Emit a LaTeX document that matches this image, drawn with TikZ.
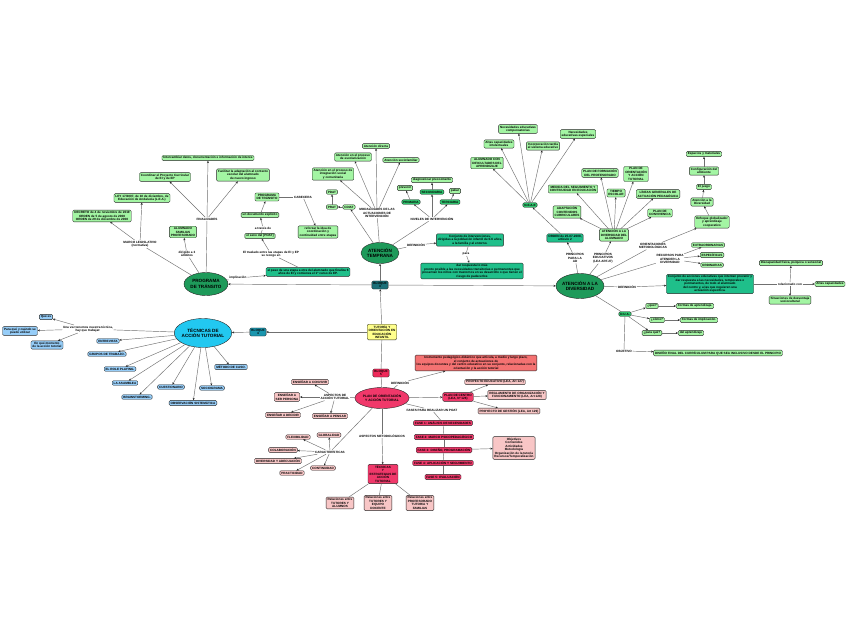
\documentclass[tikz,border=0pt]{standalone}
\usepackage{fontspec}
\setmainfont{Liberation Sans}
\usetikzlibrary{shapes.geometric,arrows.meta}
\definecolor{lgreen}{HTML}{A3F5A3}
\definecolor{mgreen}{HTML}{2FC46E}
\definecolor{tealg}{HTML}{1FBF8A}
\definecolor{dgreen}{HTML}{1E9A5A}
\definecolor{dteal}{HTML}{1B6F78}
\definecolor{bteal}{HTML}{1A96AE}
\definecolor{cyanE}{HTML}{22C8F0}
\definecolor{lblue}{HTML}{96CDF8}
\definecolor{yel}{HTML}{FFFF8C}
\definecolor{redA}{HTML}{EE2A5A}
\definecolor{redB}{HTML}{F0386A}
\definecolor{salmon}{HTML}{F47272}
\definecolor{lpink}{HTML}{F8C6C6}
\definecolor{lineg}{HTML}{707070}
\tikzset{
  txt/.style={font=\fontsize{3.1}{3.5}\selectfont\bfseries, align=center},
  bx/.style={txt, draw=black!85, line width=0.35pt, rounded corners=1.2pt, inner xsep=1.5pt, inner ysep=1.2pt},
  gb/.style={bx, fill=lgreen},
  mg/.style={bx, fill=mgreen},
  tg/.style={bx, fill=tealg},
  bb/.style={bx, fill=lblue},
  pk/.style={bx, fill=lpink},
  rd/.style={bx, fill=redB},
  lb/.style={txt, fill=white, inner sep=0.6pt},
  el/.style={ellipse, draw=black!85, line width=0.4pt, font=\fontsize{4.6}{5.2}\selectfont\bfseries, align=center, inner sep=0pt},
  cn/.style={draw=lineg, line width=0.45pt},
  ar/.style={cn, -{Stealth[length=2.3pt,width=2pt,color=black!85]}},
}
\begin{document}
\begin{tikzpicture}[x=1pt,y=-1pt]
\useasboundingbox (0,0) rectangle (848,638);
\fill[white] (0,0) rectangle (848,638);

% ---------- central ----------
\node[bx, fill=dteal, minimum width=16] (b3) at (380,285) {BLOQUE\\3};
\node[bx, fill=yel] (tut) at (382,332) {TUTORÍA Y\\ORIENTACIÓN EN\\EDUCACIÓN\\INFANTIL};
\node[bx, fill=bteal] (b4) at (258,332) {BLOQUE\\4};
\node[bx, fill=redA] (b5) at (381,373) {BLOQUE\\5};

\node[el, fill=dgreen, minimum width=44, minimum height=23] (prog) at (206,284) {PROGRAMA\\DE TRÁNSITO};
\node[el, fill=dgreen, minimum width=38, minimum height=21] (at) at (380,253) {ATENCIÓN\\TEMPRANA};
\node[el, fill=dgreen, minimum width=48, minimum height=25, inner sep=-2.5pt, font=\fontsize{4.6}{5.4}\selectfont\bfseries] (aad) at (580,286) {ATENCIÓN A LA\\DIVERSIDAD};
\node[el, fill=cyanE, minimum width=52, minimum height=29, inner sep=-1pt] (tec) at (203,333) {TÉCNICAS DE\\ACCIÓN TUTORIAL};
\node[el, fill=redB, minimum width=52, minimum height=21, font=\fontsize{3.3}{3.8}\selectfont\bfseries] (poat) at (382,398) {PLAN DE ORIENTACIÓN\\Y ACCIÓN TUTORIAL};

\draw[ar] (b3) -- (prog);
\draw[ar] (b3) -- (aad);
\draw[ar] (b3) -- (at);
\draw[ar] (tut) -- (b3);
\draw[ar] (tut) -- (b4);
\draw[ar] (b4) -- (tec);
\draw[cn] (tut) -- (b5);
\draw[cn] (b5) -- (poat);

% ---------- programa de transito ----------
\node[lb] (fin) at (207,219) {FINALIDADES};
\node[gb] (p1) at (208,158) {Intercambiar datos, documentación e información de interés};
\node[gb] (p2) at (165,177) {Coordinar el Proyecto Curricular\\de EI y de EP};
\node[gb] (p3) at (243,175) {Facilitar la adaptación al contexto\\escolar del alumnado\\de nuevo ingreso};
\node[lb] (marco) at (140,244) {MARCO LEGISLATIVO\\(normativa)};
\node[gb] (ley) at (142,198) {LEY 17/2007, de 10 de diciembre, de\\Educación de Andalucía (L.E.A.)};
\node[gb] (dec) at (102,216) {DECRETO de 4 de noviembre de 2019\\ORDEN de 5 de agosto de 2008\\ORDEN de 29 de diciembre de 2008};
\node[gb] (alum) at (183,232) {ALUMNADO\\FAMILIAS\\PROFESORADO};
\node[lb] (dir) at (187,254) {dirigido a 3\\ámbitos};
\node[gb] (ptbox) at (267,197) {PROGRAMA\\DE TRÁNSITO};
\node[gb] (doc) at (260,215) {un documento explícito};
\node[lb] (atr) at (263,228) {a través de};
\node[gb] (seno) at (260,236) {el seno del [POAT]};
\node[lb] (tras) at (271,254) {El traslado entre las etapas de EI y EP\\se recoge en};
\node[tg] (paso) at (308,272) {el paso de una etapa a otra del alumnado que finaliza 6\\años de EI y comienza el 1º curso de EP.};
\node[lb] (impl) at (238,278) {implicación};
\node[lb] (cab) at (303,197) {CABECERA};
\node[gb] (refl) at (318,232) {reforzar la idea de\\coordinación y\\continuidad entre etapas};

\draw[cn] (prog) -- (fin);
\draw[ar] (fin) -- (p1);
\draw[ar] (fin) -- (p2);
\draw[ar] (fin) -- (p3);
\draw[cn] (prog) -- (marco);
\draw[ar] (marco) -- (ley);
\draw[ar] (marco) -- (dec);
\draw[cn] (prog) -- (dir);
\draw[ar] (dir) -- (alum);
\draw[cn] (prog) -- (impl);
\draw[ar] (impl) -- (paso);
\draw[cn] (paso) -- (tras);
\draw[ar] (tras) -- (seno);
\draw[cn] (seno) -- (atr);
\draw[ar] (atr) -- (doc);
\draw[ar] (doc) -- (ptbox);
\draw[cn] (ptbox) -- (cab);
\draw[ar] (cab) -- (refl);

% ---------- atencion temprana ----------
\node[lb] (mod) at (377,213) {MODALIDADES DE LAS\\ACTUACIONES DE\\INTERVENCIÓN};
\node[gb] (ad) at (376,146) {Atención directa};
\node[gb] (aesc) at (353,157) {Atención en el proceso\\de escolarización};
\node[gb] (asoc) at (401,160) {Atención sociofamiliar};
\node[gb] (aint) at (333,174) {Atención en el proceso de\\integración social\\y comunitaria};
\node[gb] (pdat) at (332,192) {PDAT};
\node[gb] (prat) at (332,207) {PRAT};
\node[gb] (cdiat) at (349,207) {CDIAT};
\draw[cn] (at) -- (mod);
\draw[ar] (mod) -- (ad);
\draw[ar] (mod) -- (aesc);
\draw[ar] (mod) -- (asoc);
\draw[ar] (mod) -- (aint);
\draw[ar] (at) -- (cdiat);
\draw[ar] (cdiat) -- (prat);
\draw[ar] (prat) -- (pdat);

\node[lb] (niv) at (432,219) {NIVELES DE INTERVENCIÓN};
\node[mg] (prim) at (411,202) {PRIMARIA};
\node[mg] (sec) at (432,192) {SECUNDARIA};
\node[mg] (ter) at (450,202) {TERCIARIA};
\node[gb] (prev) at (405,188) {prevenir};
\node[gb] (diag) at (432,180) {diagnosticar precozmente};
\node[gb] (pal) at (455,191) {paliar};
\draw[cn] (at) -- (niv);
\draw[ar] (niv) -- (prim);
\draw[ar] (niv) -- (sec);
\draw[ar] (niv) -- (ter);
\draw[ar] (prim) -- (prev);
\draw[ar] (sec) -- (diag);
\draw[ar] (ter) -- (pal);

\node[lb] (defat) at (416,245) {DEFINICIÓN};
\node[tg] (conj) at (470,240) {Conjunto de intervenciones,\\dirigidas a la población infantil de 0-6 años,\\a la familia y al entorno.};
\node[lb] (para) at (466,254) {para};
\node[tg] (dar) at (472,271) {dar respuesta lo más\\pronto posible a las necesidades transitorias o permanentes que\\presentan los niños con trastornos en su desarrollo o que tienen el\\riesgo de padecerlos};
\draw[cn] (at) -- (defat);
\draw[ar] (defat) -- (conj);
\draw[cn] (conj) -- (para);
\draw[ar] (para) -- (dar);

% ---------- atencion a la diversidad ----------
\node[mg] (neae) at (530,205) {N.E.A.E};
\node[gb] (n1) at (487,163) {ALUMNADO CON\\DIFICULTADES DEL\\APRENDIZAJE};
\node[gb] (n2) at (499,144) {Altas capacidades\\intelectuales};
\node[gb] (n3) at (518,129) {Necesidades educativas\\compensatorias};
\node[gb] (n4) at (543,146) {Incorporación tardía\\al sistema educativo};
\node[gb] (n5) at (578,134) {Necesidades\\educativas especiales};
\foreach \n in {n1,n2,n3,n4,n5} \draw[ar] (neae) -- (\n);

\node[tg] (orden) at (565,238) {ORDEN de 25-07-2008,\\artículo 2};
\node[lb] (ppad) at (575,258) {PRINCIPIOS\\PARA LA\\AD};
\node[lb] (pedu) at (603,258) {PRINCIPIOS\\EDUCATIVOS\\(LEA ART.27)};
\node[gb] (aada) at (614,235) {ATENCIÓN A LA\\DIVERSIDAD DEL\\ALUMNADO};
\draw[cn] (aad) -- (ppad);
\draw[ar] (ppad) -- (orden);
\draw[ar] (orden) -- (neae);
\draw[cn] (aad) -- (pedu);
\draw[ar] (pedu) -- (aada);

\node[gb] (c1) at (567,212) {ADAPTACIÓN\\CONTENIDOS\\CURRICULARES};
\node[gb] (c2) at (573,189) {MEDIDA DEL SEGUIMIENTO Y\\CONTINUIDAD EN EDUCACIÓN};
\node[gb] (c3) at (600,173) {PLAN DE FORMACIÓN\\DEL PROFESORADO};
\node[gb] (c4) at (616,193) {TIEMPO\\ESCOLAR};
\node[gb] (c5) at (636,174) {PLAN DE\\ORIENTACIÓN\\Y ACCIÓN\\TUTORIAL};
\node[gb] (c6) at (658,194) {LÍNEAS GENERALES DE\\ACTUACIÓN PEDAGÓGICA};
\node[gb] (c7) at (660,213) {PLAN DE\\CONVIVENCIA};
\foreach \n in {c1,c2,c3,c4,c5,c6,c7} \draw[ar] (aada) -- (\n);

\node[lb] (ometo) at (653,246) {ORIENTACIONES\\METODOLÓGICAS};
\node[gb] (enf) at (712,222) {Enfoque globalizador\\y aprendizaje\\cooperativo};
\node[gb] (aten2) at (702,202) {Atención a la\\Diversidad};
\node[gb] (juego) at (704,187) {El juego};
\node[gb] (conf) at (704,171) {Configuración del\\ambiente};
\node[gb] (esp) at (704,154) {Espacios y materiales};
\draw[cn] (aad) -- (ometo);
\draw[ar] (ometo) -- (enf);
\draw[ar] (enf) -- (aten2);
\draw[ar] (aten2) -- (juego);
\draw[ar] (juego) -- (conf);
\draw[ar] (conf) -- (esp);

\node[lb] (rec) at (670,259) {RECURSOS PARA\\ATENDER LA\\DIVERSIDAD};
\node[gb] (ext) at (708,245) {EXTRAORDINARIAS};
\node[gb] (espc) at (712,255) {ESPECÍFICAS};
\node[gb] (ord) at (712,265) {ORDINARIAS};
\draw[cn] (aad) -- (rec);
\draw[ar] (rec) -- (ext);
\draw[ar] (rec) -- (espc);
\draw[ar] (rec) -- (ord);

\node[lb] (defad) at (627,287) {DEFINICIÓN};
\node[tg] (conjad) at (710,284) {Conjunto de acciones educativas que intentan prevenir y\\dar respuesta a las necesidades, temporales o\\permanentes, de todo el alumnado\\del centro y, a las que requieren una\\actuación específica.};
\node[lb] (rel) at (790,284) {relacionado con};
\node[gb] (altas) at (830,284) {Altas capacidades};
\node[gb] (disc) at (791,263) {Discapacidad física, psíquica o sensorial};
\node[gb] (sit) at (790,300) {Situaciones de desventaja\\sociocultural};
\draw[cn] (aad) -- (defad);
\draw[ar] (defad) -- (conjad);
\draw[cn] (conjad) -- (rel);
\draw[ar] (rel) -- (altas);
\draw[ar] (rel) -- (disc);
\draw[ar] (rel) -- (sit);

\node[mg] (dua) at (625,314) {D.U.A.};
\node[gb] (q1) at (652,306) {¿qué?};
\node[gb] (q1r) at (695,306) {Formas de aprendizaje.};
\node[gb] (q2) at (657,320) {¿cómo?};
\node[gb] (q2r) at (699,320) {Formas de implicación.};
\node[gb] (q3) at (652,333) {¿para qué?};
\node[gb] (q3r) at (691,333) {del aprendizaje};
\node[lb] (obj) at (624,351) {OBJETIVO};
\node[gb] (dis) at (718,353) {DISEÑO FINAL DEL CURRÍCULUM PARA QUE SEA INCLUSIVO DESDE EL PRINCIPIO};
\draw[cn] (aad) -- (dua);
\draw[ar] (dua) -- (q1);
\draw[ar] (dua) -- (q2);
\draw[ar] (dua) -- (q3);
\draw[ar] (q1) -- (q1r);
\draw[ar] (q2) -- (q2r);
\draw[ar] (q3) -- (q3r);
\draw[cn] (dua) -- (obj);
\draw[ar] (obj) -- (dis);

% ---------- tecnicas ----------
\node[lb] (una) at (88,329) {Una vez tenemos nuestra técnica,\\hay que trabajar:};
\node[bb] (que) at (46,317) {Qué es};
\node[bb] (para2) at (20,331) {Para qué y cuándo se\\puede utilizar};
\node[bb] (enq) at (47,345) {En qué momento\\de la acción tutorial};
\draw[cn] (tec) -- (una);
\draw[ar] (una) -- (que);
\draw[ar] (una) -- (para2);
\draw[ar] (una) -- (enq);

\node[bb] (t1) at (108,341) {ENTREVISTA};
\node[bb] (t2) at (107,354) {GRUPOS DE TRABAJO.};
\node[bb] (t3) at (120,369) {EL ROLE PLAYING.};
\node[bb] (t4) at (125,383) {LA ASAMBLEA};
\node[bb] (t5) at (137,397) {BRAINSTORMING.};
\node[bb] (t6) at (171,387) {CUESTIONARIO};
\node[bb] (t7) at (193,403) {OBSERVACIÓN SISTEMÁTICA};
\node[bb] (t8) at (212,388) {SOCIOGRAMA};
\node[bb] (t9) at (231,367) {MÉTODO DE CASO.};
\foreach \n in {t1,t2,t3,t4,t5,t6,t7,t8,t9} \draw[ar] (tec) -- (\n);

% ---------- plan de orientacion ----------
\node[lb] (asp) at (335,397) {ASPECTOS DE\\ACCIÓN TUTORIAL};
\node[pk] (e1) at (310,382) {ENSEÑAR A CONVIVIR};
\node[pk] (e2) at (287,397) {ENSEÑAR A\\SER PERSONA};
\node[pk] (e3) at (283,415) {ENSEÑAR A DECIDIR};
\node[pk] (e4) at (330,416) {ENSEÑAR A PENSAR};
\draw[cn] (poat) -- (asp);
\foreach \n in {e1,e2,e3,e4} \draw[ar] (asp) -- (\n);

\node[lb] (defp) at (400,383) {DEFINICIÓN};
\node[bx, fill=salmon] (inst) at (476,363) {Instrumento pedagógico-didáctico que articula, a medio y largo plazo,\\el conjunto de actuaciones de\\los equipos docentes y del centro educativo en su conjunto, relacionadas con la\\orientación y la acción tutorial};
\node[rd] (pc) at (458,397) {PLAN DE CENTRO\\(LEA, Nº 126)};
\node[pk] (pe) at (495,382) {PROYECTO EDUCATIVO (LEA, Art 127)};
\node[pk] (rof) at (517,395) {REGLAMENTO DE ORGANIZACIÓN Y\\FUNCIONAMIENTO (LEA, Art 128)};
\node[pk] (pg) at (509,411) {PROYECTO DE GESTIÓN (LEA, Art 129)};
\draw[cn] (poat) -- (defp);
\draw[ar] (defp) -- (inst);
\draw[ar] (poat) -- (pc);
\draw[ar] (pc) -- (pe);
\draw[ar] (pc) -- (rof);
\draw[ar] (pc) -- (pg);

\node[lb] (fases) at (432,410) {FASES PARA REALIZAR UN POAT};
\node[rd] (f1) at (443,423) {FASE 1: ANÁLISIS DE NECESIDADES};
\node[rd] (f2) at (444,437) {FASE 2: MARCO PSICOPEDAGÓGICO};
\node[rd] (f3) at (444,450) {FASE 3: DISEÑO, PROGRAMACIÓN};
\node[rd] (f4) at (443,463) {FASE 4: APLICACIÓN Y SEGUIMIENTO};
\node[rd] (f5) at (443,477) {FASE 5: EVALUACIÓN};
\node[pk] (obs) at (514,448) {Objetivos\\Contenidos\\Actividades\\Metodología\\Organización de la tutoría\\Recursos/Temporalización};
\draw[cn] (poat) -- (fases);
\draw[cn] (fases) -- (f1);
\draw[cn] (f1) -- (f2);
\draw[cn] (f2) -- (f3);
\draw[cn] (f3) -- (f4);
\draw[cn] (f4) -- (f5);
\draw[ar] (f3) -- (obs);

\node[lb] (amet) at (382,436) {ASPECTOS METODOLÓGICOS};
\node[rd] (tye) at (383,474) {TÉCNICAS\\Y\\ESTRATEGIAS DE\\ACCIÓN\\TUTORIAL};
\node[pk] (r1) at (340,503) {Relaciones entre\\TUTORES Y\\ALUMNOS};
\node[pk] (r2) at (378,503) {Relaciones entre\\TUTORES Y\\EQUIPO\\DOCENTE};
\node[pk] (r3) at (420,503) {Relaciones entre\\PROFESORADO\\TUTOR/A Y\\FAMILIAS};
\draw[cn] (poat) -- (amet);
\draw[ar] (amet) -- (tye);
\draw[cn] (tye) -- (r1);
\draw[cn] (tye) -- (r2);
\draw[cn] (tye) -- (r3);

\node[lb] (car) at (330,452) {CARACTERÍSTICAS};
\node[pk] (k1) at (298,437) {FLEXIBILIDAD};
\node[pk] (k2) at (329,435) {GLOBALIDAD};
\node[pk] (k3) at (283,450) {COLABORACIÓN};
\node[pk] (k4) at (278,461) {DIVERSIDAD Y ADECUACIÓN};
\node[pk] (k5) at (323,468) {CONTINUIDAD};
\node[pk] (k6) at (292,473) {PRACTICIDAD};
\draw[cn] (poat) -- (car);
\foreach \n in {k1,k2,k3,k4,k5,k6} \draw[ar] (car) -- (\n);
\end{tikzpicture}
\end{document}
